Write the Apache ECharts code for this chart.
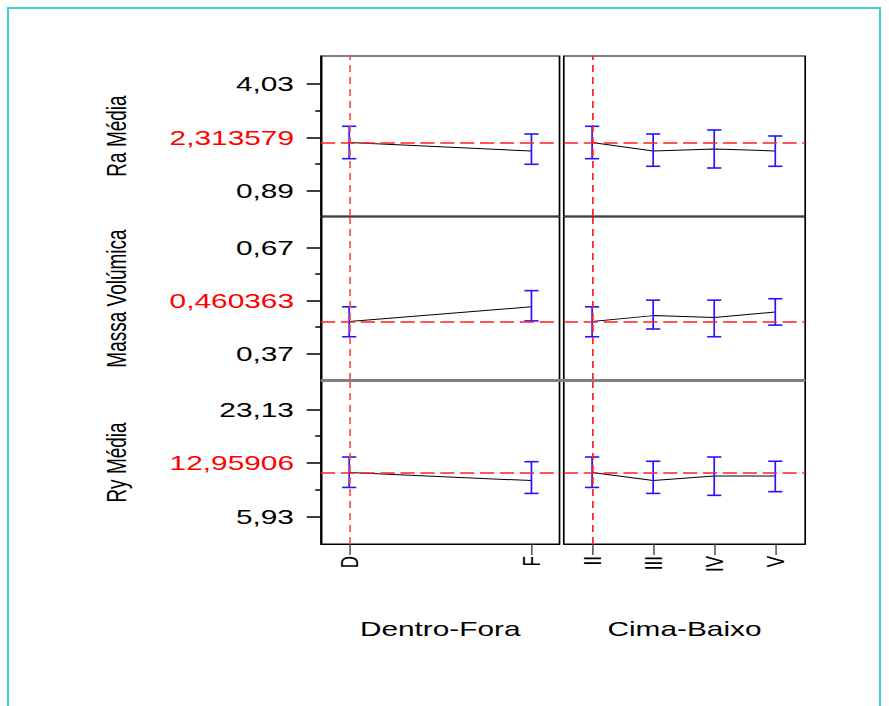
<!DOCTYPE html>
<html>
<head>
<meta charset="utf-8">
<script src="https://cdn.jsdelivr.net/npm/echarts@6/dist/echarts.min.js"></script>
<style>
  html, body { margin: 0; padding: 0; background: #fff; width: 889px; height: 706px; overflow: hidden; }
  #frame { position: absolute; left: 7px; top: 7px; width: 874px; height: 720px; border: 2px solid #3fcfcf; box-sizing: border-box; }
  #chart { position: absolute; left: 0; top: 0; width: 626px; height: 706px; transform: scaleX(1.4201); transform-origin: 0 0; }
</style>
</head>
<body>
<div id="frame"></div>
<div id="chart"></div>
<script>
// ---------- data ----------
const responses = ['Ra Média', 'Massa Volúmica', 'Ry Média'];
const factorNames = ['Dentro-Fora', 'Cima-Baixo'];
const catsDF = ['D', 'F'];
const catsCB = ['II', 'III', 'IV', 'V'];

const currentValues = [2.313579, 0.460363, 12.95906];
const currentLabels = ['2,313579', '0,460363', '12,95906'];

// Ra Média
const raDF    = [2.3136, 2.064];
const raDFLo  = [1.838, 1.674];
const raDFHi  = [2.789, 2.563];
const raCB    = [2.3136, 2.064, 2.123, 2.064];
const raCBLo  = [1.838, 1.615, 1.565, 1.615];
const raCBHi  = [2.789, 2.563, 2.680, 2.504];
// Massa Volúmica
const mvDF    = [0.4604, 0.502];
const mvDFLo  = [0.417, 0.462];
const mvDFHi  = [0.502, 0.548];
const mvCB    = [0.4604, 0.477, 0.472, 0.487];
const mvCBLo  = [0.417, 0.439, 0.417, 0.450];
const mvCBHi  = [0.502, 0.521, 0.521, 0.525];
// Ry Média
const ryDF    = [12.959, 11.67];
const ryDFLo  = [10.57, 9.61];
const ryDFHi  = [15.46, 14.71];
const ryCB    = [12.959, 11.67, 12.39, 12.39];
const ryCBLo  = [10.57, 9.61, 9.30, 9.89];
const ryCBHi  = [15.46, 14.78, 15.46, 14.78];

// tick labels / axis ranges
const yMajorTicks = [[0.89, 2.46, 4.03], [0.37, 0.52, 0.67], [5.93, 14.53, 23.13]];
const yMinorTicks = [[1.675, 3.245], [0.445, 0.595], [10.23, 18.83]];
const yRanges = [[0.156, 4.852], [0.2941, 0.7572], [1.477, 27.68]];

const panelData = [
  [[raDF, raDFLo, raDFHi], [raCB, raCBLo, raCBHi]],
  [[mvDF, mvDFLo, mvDFHi], [mvCB, mvCBLo, mvCBHi]],
  [[ryDF, ryDFLo, ryDFHi], [ryCB, ryCBLo, ryCBHi]]
];
const panelCats = [catsDF, catsCB];

// ---------- layout (pre-stretch coordinates) ----------
const colLeft = [226, 397];
const colWidth = [168, 170];
const rowTop = [56, 217, 381];
const rowHeight = [160, 163, 163];
const xRanges = [[-0.155, 1.154], [-0.464, 3.49]];

const FONT = 'Arial, "Liberation Sans", Helvetica, sans-serif';

const grids = [], xAxes = [], yAxes = [], series = [];

for (let r = 0; r < 3; r++) {
  for (let p = 0; p < 2; p++) {
    grids.push({
      left: colLeft[p], top: rowTop[r], width: colWidth[p], height: rowHeight[r],
      show: true, borderColor: '#000', borderWidth: 1.2, backgroundColor: '#fff',
      containLabel: false, outerBoundsMode: 'none'
    });
    const isBottom = r === 2;
    const cats = panelCats[p];
    const idx = cats.map((c, i) => i);
    xAxes.push({
      type: 'value', gridIndex: r * 2 + p,
      min: xRanges[p][0], max: xRanges[p][1],
      show: isBottom,
      splitLine: { show: false },
      axisLine: { show: true, onZero: false, lineStyle: { color: '#000', width: 1.2 } },
      axisTick: { show: true, length: 11, customValues: idx, lineStyle: { color: '#444', width: 1 } },
      axisLabel: {
        show: true, customValues: idx, rotate: 90, margin: 12,
        fontSize: 17, color: '#000', fontFamily: FONT,
        formatter: v => cats[Math.round(v)] || ''
      },
      name: isBottom ? factorNames[p] : '',
      nameLocation: 'middle', nameGap: 74,
      nameTextStyle: { fontSize: 21, color: '#000', fontFamily: FONT }
    });
  }
  // left major y axis
  const rr = r;
  yAxes.push({
    type: 'value', gridIndex: r * 2, position: 'left',
    min: yRanges[r][0], max: yRanges[r][1],
    splitLine: { show: false },
    axisLine: { show: true, onZero: false, lineStyle: { color: '#000', width: 1.2 } },
    axisTick: { show: true, length: 10, customValues: yMajorTicks[r], lineStyle: { color: '#000', width: 1.5 } },
    axisLabel: {
      show: true, customValues: yMajorTicks[r], margin: 19,
      fontSize: 21, color: '#000', fontFamily: FONT,
      formatter: v => Math.abs(v - yMajorTicks[rr][1]) < 1e-9
        ? '{r|' + currentLabels[rr] + '}'
        : v.toFixed(2).replace('.', ','),
      rich: { r: { color: '#ff0000', fontSize: 21, fontFamily: FONT } }
    },
    name: responses[r], nameLocation: 'middle', nameRotate: 90, nameGap: 134,
    nameTextStyle: { fontSize: 19, color: '#000', fontFamily: FONT }
  });
  // left minor y axis (short ticks)
  yAxes.push({
    type: 'value', gridIndex: r * 2, position: 'left',
    min: yRanges[r][0], max: yRanges[r][1],
    splitLine: { show: false },
    axisLine: { show: false, onZero: false },
    axisTick: { show: true, length: 4, customValues: yMinorTicks[r], lineStyle: { color: '#000', width: 1.5 } },
    axisLabel: { show: false }
  });
  // right y axis (hidden)
  yAxes.push({
    type: 'value', gridIndex: r * 2 + 1,
    min: yRanges[r][0], max: yRanges[r][1],
    show: false, splitLine: { show: false },
    axisLine: { show: false, onZero: false }
  });

  for (let p = 0; p < 2; p++) {
    const [vals, lo, hi] = panelData[r][p];
    const xi = r * 2 + p;
    const yi = p === 0 ? r * 3 : r * 3 + 2;
    series.push({
      type: 'line', xAxisIndex: xi, yAxisIndex: yi,
      data: vals.map((v, i) => [i, v]),
      symbol: 'none', silent: true, animation: false,
      lineStyle: { color: '#000', width: 1 },
      z: 3,
      markLine: {
        silent: true, symbol: ['none', 'none'], animation: false,
        label: { show: false },
        data: [
          { xAxis: 0, lineStyle: { color: p === 0 ? '#ff5050' : '#ff2020', width: 1.2, type: [7, 5] } },
          { yAxis: currentValues[r], lineStyle: { color: '#ff2020', width: 1.5, type: [10, 4] } }
        ]
      }
    });
    series.push({
      type: 'custom', xAxisIndex: xi, yAxisIndex: yi,
      data: vals.map((v, i) => [i, lo[i], hi[i]]),
      silent: true, animation: false, z: 4,
      renderItem: (params, api) => {
        const x = api.value(0);
        const a = api.coord([x, api.value(1)]);
        const b = api.coord([x, api.value(2)]);
        const hw = 5;
        const st = { stroke: '#2a12ff', lineWidth: 1.2 };
        return {
          type: 'group',
          children: [
            { type: 'line', shape: { x1: a[0], y1: a[1], x2: b[0], y2: b[1] }, style: st },
            { type: 'line', shape: { x1: a[0] - hw, y1: a[1], x2: a[0] + hw, y2: a[1] }, style: { stroke: '#2a12ff', lineWidth: 1.6 } },
            { type: 'line', shape: { x1: b[0] - hw, y1: b[1], x2: b[0] + hw, y2: b[1] }, style: { stroke: '#2a12ff', lineWidth: 1.6 } }
          ]
        };
      }
    });
  }
}

const chart = echarts.init(document.getElementById('chart'), null, { renderer: 'svg' });
chart.setOption({
  animation: false,
  backgroundColor: 'transparent',
  grid: grids,
  xAxis: xAxes,
  yAxis: yAxes,
  series: series,
  graphic: [
    { type: 'rect', z: 100, silent: true,
      shape: { x: colLeft[0], y: rowTop[2] - 2, width: colLeft[1] + colWidth[1] - colLeft[0], height: 3 },
      style: { fill: '#808080' } }
  ]
});
</script>
</body>
</html>
